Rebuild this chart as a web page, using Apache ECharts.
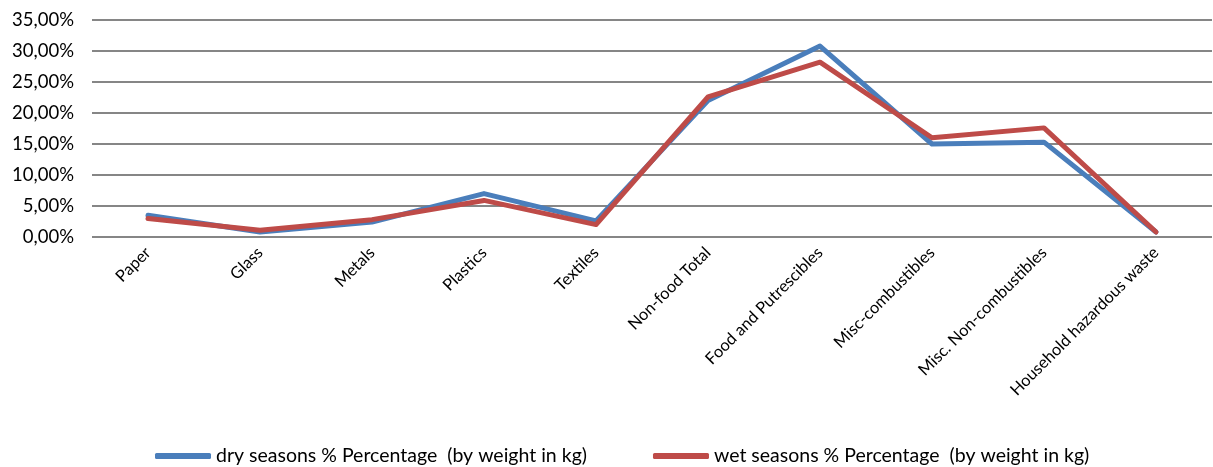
<!DOCTYPE html>
<html>
<head>
<meta charset="utf-8">
<script src="https://cdn.jsdelivr.net/npm/echarts@6/dist/echarts.min.js"></script>
<style>html,body{margin:0;padding:0;background:#fff;}#c{width:1213px;height:467px;}</style>
</head>
<body>
<div id="c"></div>
<script>
const categories = ['Paper','Glass','Metals','Plastics','Textiles','Non-food Total','Food and Putrescibles','Misc-combustibles','Misc. Non-combustibles','Household hazardous waste'];
const drySeason = [3.5, 0.8, 2.4, 7.0, 2.6, 22.0, 30.8, 15.0, 15.3, 0.8];
const wetSeason = [3.0, 1.1, 2.8, 5.9, 2.0, 22.6, 28.2, 16.0, 17.6, 0.8];
const seriesNames = ['dry seasons % Percentage  (by weight in kg)', 'wet seasons % Percentage  (by weight in kg)'];

const FONT = 'Lato';
const chart = echarts.init(document.getElementById('c'));
chart.setOption({
  animation: false,
  textStyle: {fontFamily: FONT},
  grid: {left: 92, right: 1, top: 20, bottom: 230, containLabel: false},
  legend: {
    top: 441, left: 150,
    itemWidth: 56, itemHeight: 6, itemGap: 66,
    icon: 'roundRect',
    textStyle: {fontFamily: FONT, fontSize: 19.5, color: '#000'},
    data: seriesNames
  },
  xAxis: {
    type: 'category', data: categories, boundaryGap: true,
    axisLine: {show: false}, axisTick: {show: false},
    axisLabel: {rotate: 45, fontSize: 16.4, color: '#000', margin: 13, interval: 0, fontFamily: FONT}
  },
  yAxis: {
    type: 'value', min: 0, max: 35, interval: 5,
    axisLine: {show: false}, axisTick: {show: false},
    splitLine: {lineStyle: {color: '#868686', width: 2}},
    axisLabel: {fontSize: 18.5, color: '#000', margin: 18, fontFamily: FONT,
      formatter: v => v.toFixed(2).replace('.', ',') + '%'}
  },
  series: [
    {name: seriesNames[0], type: 'line', data: drySeason, symbol: 'none',
     lineStyle: {width: 5, color: '#4A7EBB', cap: 'round', join: 'round'}, itemStyle: {color: '#4A7EBB'}},
    {name: seriesNames[1], type: 'line', data: wetSeason, symbol: 'none',
     lineStyle: {width: 5, color: '#BE4B48', cap: 'round', join: 'round'}, itemStyle: {color: '#BE4B48'}}
  ]
});
</script>
</body>
</html>
